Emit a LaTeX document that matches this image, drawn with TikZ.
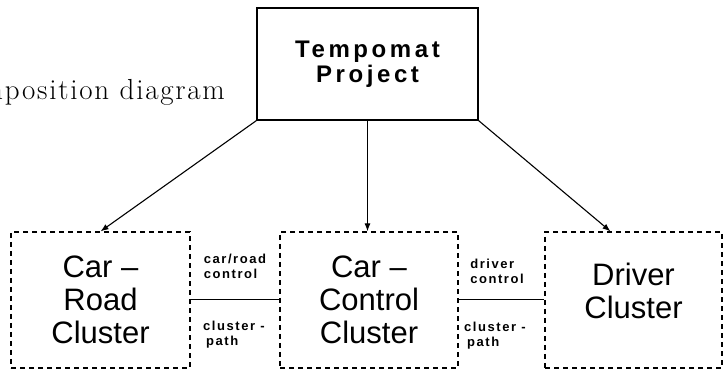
\documentclass[tikz,border=0pt]{standalone}
\usepackage{fontspec}
\usepackage{tikz}
\usetikzlibrary{arrows.meta,positioning,calc}
\newfontfamily\clusterfont{Liberation Sans}
\newfontfamily\heavyfont[LetterSpace=15]{Liberation Sans Bold}
\newfontfamily\tagfont[LetterSpace=12]{Liberation Sans Bold}
\newfontfamily\titlefont[LetterSpace=6]{Latin Modern Roman}

\begin{document}
\begin{tikzpicture}[x=1pt,y=-1pt,
  proj/.style={draw,line width=1.2pt,minimum width=221,minimum height=112,align=center,
    font=\heavyfont\fontsize{24}{25}\selectfont},
  cluster/.style={draw,dashed,dash pattern=on 5pt off 4pt,line width=1.2pt,minimum height=136,
    align=center,font=\clusterfont\fontsize{31}{33}\selectfont},
  tag/.style={align=left,inner sep=0pt,font=\tagfont\fontsize{13}{15}\selectfont},
  arr/.style={-{Latex[length=8pt,width=6pt]},line width=1.1pt}]
\useasboundingbox (0,0) rectangle (724,371);
\clip (0,0) rectangle (724,371);
\node[anchor=base east,font=\titlefont\fontsize{29}{34}\selectfont,inner sep=0pt] (title) at (225,100) {Decomposition diagram};
\node[proj] (project) at (367.5,64) {Tempomat\\Project};
\node[cluster,minimum width=179] (carroad) at (100.5,300) {Car \textendash\\Road\\Cluster};
\node[cluster,minimum width=178] (carcontrol) at (369,300) {Car \textendash\\Control\\Cluster};
\node[cluster,minimum width=177] (driver) at (633.5,300) {};
\node[align=center,font=\clusterfont\fontsize{31}{33}\selectfont] (drivertext) at (633.5,291) {Driver\\Cluster};
\node[tag] (crctl) at (235,266) {car/road\\control};
\node[tag,anchor=west] (crpath) at (203,335) {cluster -\\\hspace*{3pt}path};
\node[tag] (drctl) at (497,271) {driver\\control};
\node[tag,anchor=west] (drpath) at (464,336) {cluster -\\\hspace*{3pt}path};
\draw[line width=1pt] (carroad.east) -- (carcontrol.west);
\draw[line width=1pt] (carcontrol.east) -- (driver.west);
\draw[arr] (project.south west) -- (carroad.north);
\draw[arr] (project.south) -- (project.south |- carcontrol.north);
\draw[arr] (project.south east) -- ([xshift=-23pt]driver.north);
\end{tikzpicture}
\end{document}
